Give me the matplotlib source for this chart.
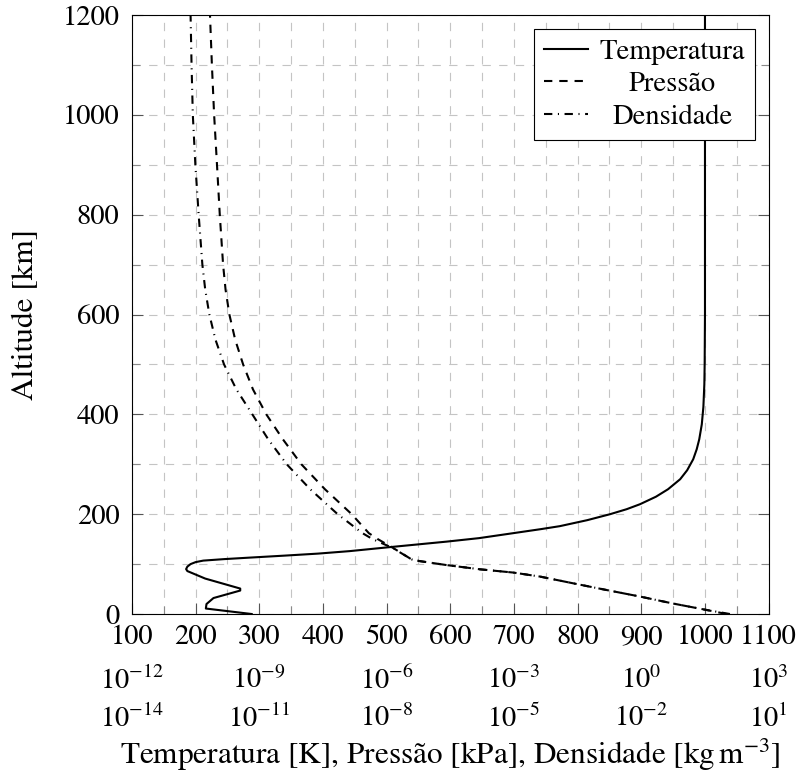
import matplotlib
matplotlib.use('Agg')
import matplotlib.pyplot as plt
from matplotlib.ticker import MultipleLocator, NullLocator, LogFormatterSciNotation

plt.rcParams['font.family'] = 'STIXGeneral'
plt.rcParams['mathtext.fontset'] = 'stix'
plt.rcParams['font.size'] = 20.5
plt.rcParams['lines.scale_dashes'] = False

# temperature profile [K] vs altitude [km]
alt_temp = [0, 11, 20, 32, 47, 51, 71, 86, 90, 95, 100, 104, 107, 110, 113, 117, 121, 126,
            133, 145, 152, 162, 170, 176, 188, 200, 210, 220, 235, 250, 270, 288, 310, 330,
            350, 380, 415, 460, 500, 600, 1200]
temp = [288, 216, 217, 228, 270, 270, 215, 187, 185, 187, 192, 200, 212, 245, 285, 340, 392, 442,
        497, 594, 645, 699, 742, 772, 815, 851, 877, 898, 923, 942, 961, 972, 981.5, 987,
        991, 995, 997.5, 999, 999.5, 1000, 1000]

# pressure [kPa] and density [kg/m3]
alt_pd = [0, 8, 21, 35, 48, 61.5, 75, 83, 89.5, 98, 106, 109.5, 132, 150, 162, 200, 250,
          300, 350, 400, 450, 500, 550, 600, 650, 700, 800, 900, 1000, 1100, 1200]
pressure = [101.3, 35, 5.6, 0.93, 0.153, 2.48e-2, 4.1e-3, 9.7e-4, 1.6e-4, 2.6e-5, 6.0e-6,
            3.85e-6, 1.44e-6, 6.2e-7, 3.8e-7, 1.5e-7, 3.51e-8, 9.77e-9, 3.59e-9, 1.46e-9,
            7.08e-10, 4.15e-10, 2.69e-10, 1.97e-10, 1.6e-10, 1.4e-10, 1.17e-10, 1.006e-10,
            8.61e-11, 7.63e-11, 6.88e-11]
density = [1.225, 0.35, 5.6e-2, 9.3e-3, 1.53e-3, 2.48e-4, 4.1e-5, 9.7e-6, 1.6e-6, 2.6e-7, 6.0e-8,
           3.85e-8, 1.41e-8, 4.68e-9, 2.69e-9, 7.0e-10, 1.58e-10, 4.42e-11, 1.62e-11, 6.84e-12,
           2.88e-12, 1.475e-12, 9.23e-13, 6.65e-13, 5.31e-13, 4.55e-13, 3.72e-13, 3.11e-13,
           2.71e-13, 2.53e-13, 2.4e-13]

p_ticks = [1e-12, 1e-9, 1e-6, 1e-3, 1e0, 1e3]
d_ticks = [1e-14, 1e-11, 1e-8, 1e-5, 1e-2, 1e1]

fig = plt.figure(figsize=(8, 7.74), dpi=100)
ax = fig.add_axes([0.165, 0.2067, 0.7958, 0.7739])
ax.set_xlim(100, 1100)
ax.set_ylim(0, 1200)
ax.xaxis.set_major_locator(MultipleLocator(100))
ax.xaxis.set_minor_locator(MultipleLocator(50))
ax.yaxis.set_major_locator(MultipleLocator(200))
ax.yaxis.set_minor_locator(MultipleLocator(100))
ax.grid(which='both', color='#c4c4c4', linestyle=(0, (6, 6)), linewidth=0.8)
ax.set_axisbelow(True)
ax.tick_params(which='both', direction='in', top=True, right=True)
ax.tick_params(which='major', length=8, color='#555555', width=0.8)
ax.tick_params(which='minor', length=5.5, color='#8a8a8a', width=0.8)
ax.tick_params(axis='x', pad=8)
ax.tick_params(axis='y', pad=9)
for s in ax.spines.values():
    s.set_linewidth(0.8)
ax.set_ylabel('Altitude [km]', fontsize=22.5)
ax.yaxis.set_label_coords(-0.145, 0.5)

lt, = ax.plot(temp, alt_temp, color='black', lw=1.5, label='Temperatura')

ax_p = ax.twiny()
ax_p.set_xscale('log')
ax_p.set_xlim(1e-12, 1e3)
lp, = ax_p.plot(pressure, alt_pd, color='black', lw=1.5, linestyle=(0, (6, 5)), label='Pressão')

ax_d = ax.twiny()
ax_d.set_xscale('log')
ax_d.set_xlim(1e-14, 1e1)
ld, = ax_d.plot(density, alt_pd, color='black', lw=1.5, linestyle=(0, (6, 4, 0.8, 4)),
                label='Densidade')

for a, ticks, off in [(ax_p, p_ticks, 38), (ax_d, d_ticks, 65)]:
    a.xaxis.set_ticks_position('bottom')
    a.xaxis.set_label_position('bottom')
    a.spines['bottom'].set_position(('outward', off))
    for s in a.spines.values():
        s.set_visible(False)
    a.set_xticks(ticks)
    a.xaxis.set_minor_locator(NullLocator())
    a.xaxis.set_major_formatter(LogFormatterSciNotation())
    a.tick_params(axis='x', length=0, pad=0)

ax_d.set_xlabel(r'Temperatura [K], Pressão [kPa], Densidade [kg$\,$m$^{-3}$]',
                fontsize=22.5, labelpad=3)

leg = ax_d.legend(handles=[lt, lp, ld], loc='upper right', fancybox=False, framealpha=1,
                  edgecolor='black', borderaxespad=0.48, handlelength=1.55,
                  handletextpad=0.4, labelspacing=0.24, borderpad=0.35)
leg.get_frame().set_linewidth(0.8)

# center the legend entries like pgfplots does
fig.canvas.draw()
r = fig.canvas.get_renderer()
widths = [t.get_window_extent(r).width for t in leg.get_texts()]
wmax = max(widths)
for t, w in zip(leg.get_texts(), widths):
    t.set_position(((wmax - w) / 2, 0))

fig.savefig('out.png', dpi=100)
